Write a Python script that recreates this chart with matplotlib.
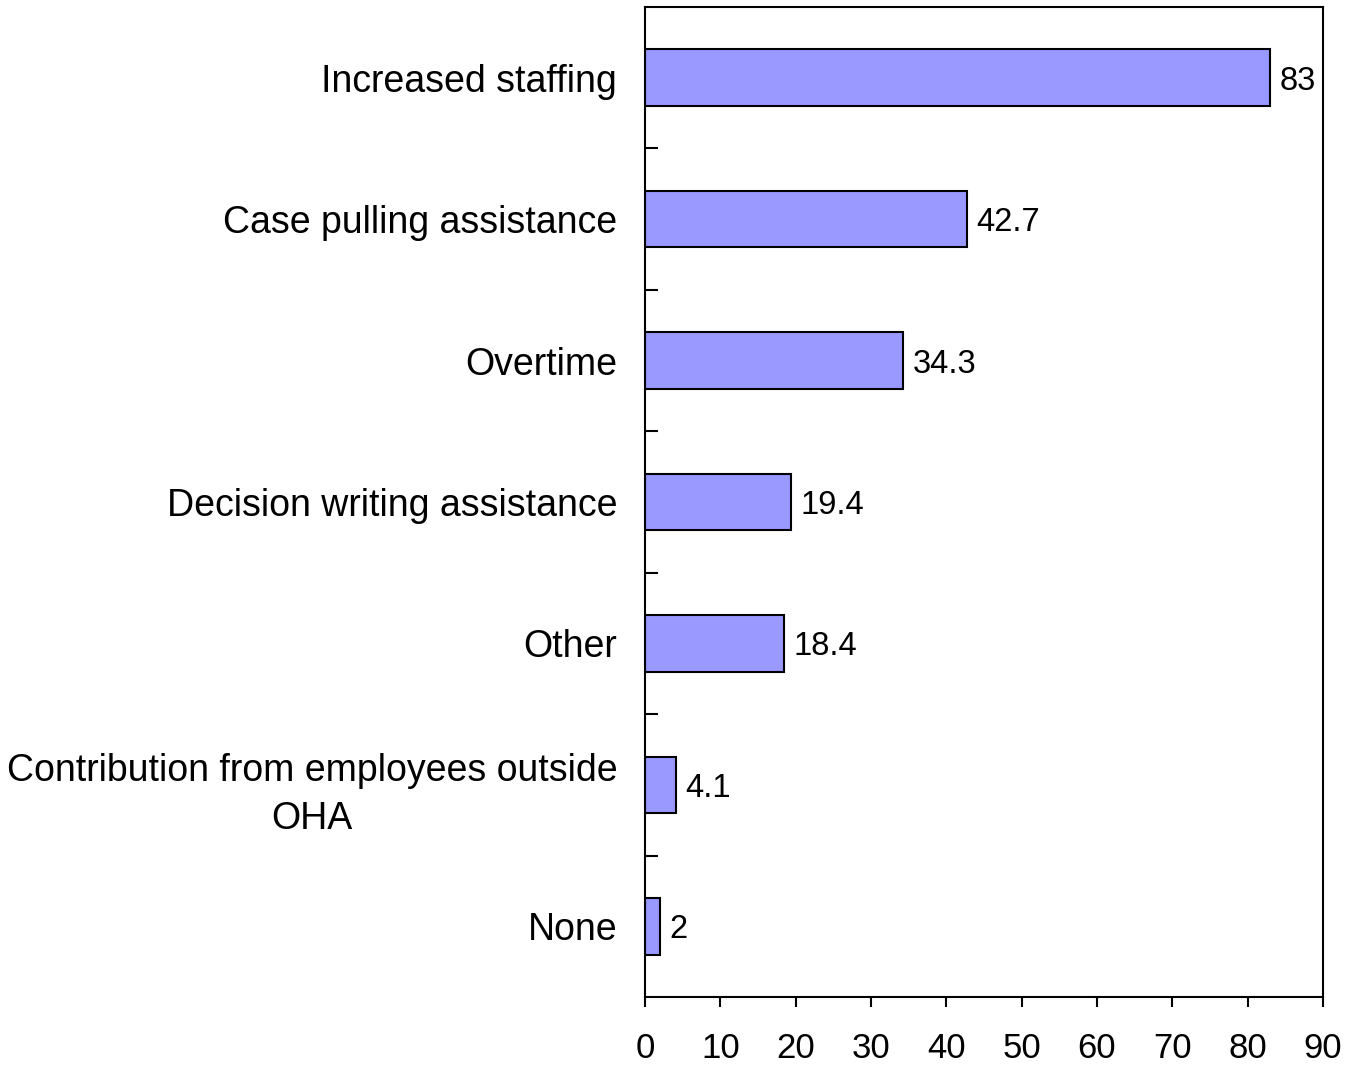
#!/usr/bin/env python3
# -*- coding: utf-8 -*-

"""
Horizontal bar chart - measures used to reduce backlog (percent)
"""

import numpy as np
import matplotlib.pyplot as plt

# data, top to bottom
categories = ['Increased staffing',
              'Case pulling assistance',
              'Overtime',
              'Decision writing assistance',
              'Other',
              'Contribution from employees outside\nOHA',
              'None']
values = [83, 42.7, 34.3, 19.4, 18.4, 4.1, 2]
value_labels = ['83', '42.7', '34.3', '19.4', '18.4', '4.1', '2']
xticks = [0, 10, 20, 30, 40, 50, 60, 70, 80, 90]

plt.rcParams['font.family'] = ['Liberation Sans', 'DejaVu Sans']

fig = plt.figure(figsize=(13.53, 10.67), dpi=100)
ax = fig.add_axes([0.4767, 0.0656, 0.5011, 0.9278])

y = np.arange(len(categories))
ax.barh(y, values, height=0.4, color='#9999FF', edgecolor='black', linewidth=1.5)

ax.set_ylim(len(categories) - 0.5, -0.5)
ax.set_xlim(0, 90)

# value labels next to the bars
for yi, v, lab in zip(y, values, value_labels):
    ax.annotate(lab, (v, yi), xytext=(7, 0), textcoords='offset points',
                va='center_baseline', ha='left', fontsize=23.5)

ax.set_yticks(y)
ax.set_yticklabels(categories, fontsize=27, multialignment='center',
                   linespacing=1.45)
ax.tick_params(axis='y', which='major', length=0, pad=20)
ax.set_yticks(y[:-1] + 0.5, minor=True)
ax.tick_params(axis='y', which='minor', direction='in', length=9, width=1.5)

ax.set_xticks(xticks)
ax.set_xticklabels([str(t) for t in xticks], fontsize=25)
ax.tick_params(axis='x', direction='out', length=7, width=1.5, pad=18)

for s in ax.spines.values():
    s.set_linewidth(1.5)

plt.savefig('out.png', dpi=100)
